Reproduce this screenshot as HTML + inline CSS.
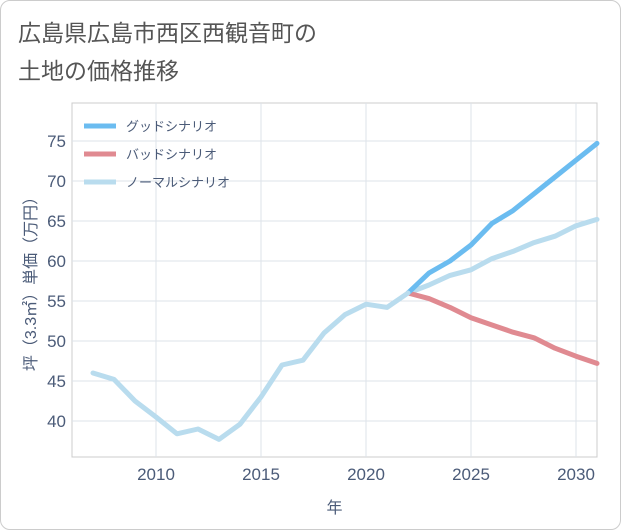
<!DOCTYPE html>
<html><head><meta charset="utf-8"><style>
body{margin:0;background:#fff;}
#wrap{position:relative;width:621px;height:530px;font-family:"Liberation Sans","Noto Sans CJK JP",sans-serif;}
#card{position:absolute;left:0;top:0;width:619px;height:528px;border:1px solid #ccc;border-radius:10px;background:#fff;}
#title{position:absolute;left:18px;top:14px;font-size:23px;line-height:38px;color:#555;}
</style></head><body>
<div id="wrap">
<div id="card"></div>
<div id="title">広島県広島市西区西観音町の<br>土地の価格推移</div>
<svg id="chart" width="621" height="530" style="position:absolute;left:0;top:0"></svg>
</div>
<script>
const histYears=[2007,2008,2009,2010,2011,2012,2013,2014,2015,2016,2017,2018,2019,2020,2021,2022];
const histValues=[46,45.2,42.5,40.5,38.4,39,37.7,39.6,43,47,47.6,51,53.3,54.6,54.2,56];
const futYears=[2022,2023,2024,2025,2026,2027,2028,2029,2030,2031];
const goodValues=[56,58.5,60,62,64.7,66.3,68.4,70.5,72.6,74.7];
const badValues=[56,55.3,54.2,52.9,52,51.1,50.4,49.1,48.1,47.2];
const normalValues=[56,57,58.2,58.9,60.3,61.2,62.3,63.1,64.4,65.2];
const xTicks=[2010,2015,2020,2025,2030];
const yTicks=[40,45,50,55,60,65,70,75];
const legendLabels=["グッドシナリオ","バッドシナリオ","ノーマルシナリオ"];
const colors=["#6bbcf0","#e08a91","#b9dcee"];
const txt='#4b5b78';

const L=72,R=597,T=103,B=457;
const xMin=2006,xMax=2031,yMin=35.5,yMax=79.75;
const x=v=>L+(v-xMin)/(xMax-xMin)*(R-L);
const y=v=>B-(v-yMin)/(yMax-yMin)*(B-T);
const svg=document.getElementById('chart');
const NS='http://www.w3.org/2000/svg';
function mk(t,a){const e=document.createElementNS(NS,t);for(const k in a)e.setAttribute(k,a[k]);svg.appendChild(e);return e;}
let r=mk('rect',{x:L,y:T,width:R-L,height:B-T,fill:'none',stroke:'#ccc'});


xTicks.forEach(t=>{
 let g=mk('line',{x1:x(t),x2:x(t),y1:T,y2:B,stroke:'#dde3ea'});
 
 
 let tx=mk('text',{x:x(t),y:B+23,'text-anchor':'middle','font-size':17,fill:txt});
 tx.textContent=t;
 
 
});
yTicks.forEach(t=>{
 let g=mk('line',{x1:L,x2:R,y1:y(t),y2:y(t),stroke:'#dde3ea'});
 
 
 let tx=mk('text',{x:L-6,y:y(t)+6,'text-anchor':'end','font-size':17,fill:txt});
 tx.textContent=t;
 
 
});
let xt=mk('text',{x:(L+R)/2,y:513,'text-anchor':'middle','font-size':16,fill:txt});
xt.textContent='年';


let yt=mk('text',{x:0,y:0,'text-anchor':'middle','font-size':16,fill:txt,transform:`translate(36,${(T+B)/2}) rotate(-90)`});
yt.textContent='坪（3.3㎡）単価（万円）';


function line(xs,vs,c,name){
 let p=mk('polyline',{points:xs.map((t,i)=>x(t)+','+y(vs[i])).join(' '),fill:'none',stroke:c,'stroke-width':5,'stroke-linejoin':'round','stroke-linecap':'round'});
 
 
}
line(futYears,normalValues,colors[2],'normal-scenario-line');
line(futYears,badValues,colors[1],'bad-scenario-line');
line(futYears,goodValues,colors[0],'good-scenario-line');
line(histYears,histValues,colors[2],'historical-line');
legendLabels.forEach((lab,i)=>{
 const ly=126+i*28;
 let l=mk('line',{x1:84,x2:116,y1:ly,y2:ly,stroke:colors[i],'stroke-width':5});
 
 
 let t=mk('text',{x:126,y:ly+5,'font-size':13,fill:txt});
 t.textContent=lab;
 
 
});
</script>
</body></html>
